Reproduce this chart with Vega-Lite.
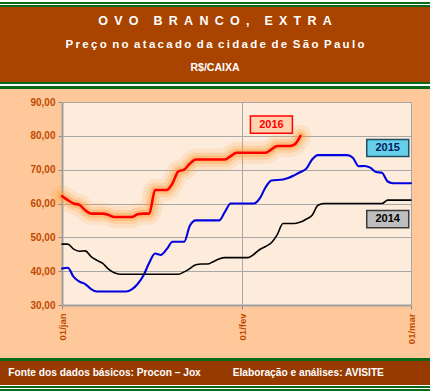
{
  "$schema": "https://vega.github.io/schema/vega-lite/v6.json",
  "background": "#FFC89A",
  "padding": 0,
  "spacing": 0,
  "config": {"view": {"stroke": null}, "font": "Liberation Sans"},
  "datasets": {
    "series": [
      {"year": "2016", "date": "2016-01-01", "price": 62.2},
      {"year": "2016", "date": "2016-01-02", "price": 61.0},
      {"year": "2016", "date": "2016-01-03", "price": 60.0},
      {"year": "2016", "date": "2016-01-04", "price": 59.6},
      {"year": "2016", "date": "2016-01-05", "price": 58.0},
      {"year": "2016", "date": "2016-01-06", "price": 57.0},
      {"year": "2016", "date": "2016-01-08", "price": 57.0},
      {"year": "2016", "date": "2016-01-09", "price": 56.6},
      {"year": "2016", "date": "2016-01-10", "price": 56.0},
      {"year": "2016", "date": "2016-01-13", "price": 56.0},
      {"year": "2016", "date": "2016-01-14", "price": 56.8},
      {"year": "2016", "date": "2016-01-15", "price": 57.0},
      {"year": "2016", "date": "2016-01-16", "price": 57.0},
      {"year": "2016", "date": "2016-01-17", "price": 64.0},
      {"year": "2016", "date": "2016-01-19", "price": 64.0},
      {"year": "2016", "date": "2016-01-20", "price": 66.0},
      {"year": "2016", "date": "2016-01-21", "price": 69.5},
      {"year": "2016", "date": "2016-01-22", "price": 70.0},
      {"year": "2016", "date": "2016-01-23", "price": 71.8},
      {"year": "2016", "date": "2016-01-24", "price": 73.0},
      {"year": "2016", "date": "2016-01-29", "price": 73.0},
      {"year": "2016", "date": "2016-01-30", "price": 74.0},
      {"year": "2016", "date": "2016-01-31", "price": 75.0},
      {"year": "2016", "date": "2016-02-05", "price": 75.0},
      {"year": "2016", "date": "2016-02-06", "price": 76.0},
      {"year": "2016", "date": "2016-02-07", "price": 77.0},
      {"year": "2016", "date": "2016-02-09", "price": 77.0},
      {"year": "2016", "date": "2016-02-10", "price": 77.5},
      {"year": "2016", "date": "2016-02-11", "price": 80.0},
      {"year": "2015", "date": "2016-01-01", "price": 40.8},
      {"year": "2015", "date": "2016-01-02", "price": 41.0},
      {"year": "2015", "date": "2016-01-03", "price": 38.3},
      {"year": "2015", "date": "2016-01-04", "price": 36.9},
      {"year": "2015", "date": "2016-01-05", "price": 36.2},
      {"year": "2015", "date": "2016-01-06", "price": 34.7},
      {"year": "2015", "date": "2016-01-07", "price": 34.0},
      {"year": "2015", "date": "2016-01-12", "price": 34.0},
      {"year": "2015", "date": "2016-01-13", "price": 34.6},
      {"year": "2015", "date": "2016-01-14", "price": 36.2},
      {"year": "2015", "date": "2016-01-15", "price": 38.7},
      {"year": "2015", "date": "2016-01-16", "price": 42.5},
      {"year": "2015", "date": "2016-01-17", "price": 45.2},
      {"year": "2015", "date": "2016-01-18", "price": 44.8},
      {"year": "2015", "date": "2016-01-19", "price": 46.5},
      {"year": "2015", "date": "2016-01-20", "price": 48.7},
      {"year": "2015", "date": "2016-01-22", "price": 48.7},
      {"year": "2015", "date": "2016-01-23", "price": 53.5},
      {"year": "2015", "date": "2016-01-24", "price": 55.0},
      {"year": "2015", "date": "2016-01-28", "price": 55.0},
      {"year": "2015", "date": "2016-01-29", "price": 57.5},
      {"year": "2015", "date": "2016-01-30", "price": 60.0},
      {"year": "2015", "date": "2016-02-03", "price": 60.0},
      {"year": "2015", "date": "2016-02-04", "price": 61.5},
      {"year": "2015", "date": "2016-02-05", "price": 64.8},
      {"year": "2015", "date": "2016-02-06", "price": 66.8},
      {"year": "2015", "date": "2016-02-08", "price": 67.1},
      {"year": "2015", "date": "2016-02-09", "price": 67.6},
      {"year": "2015", "date": "2016-02-10", "price": 68.4},
      {"year": "2015", "date": "2016-02-11", "price": 69.3},
      {"year": "2015", "date": "2016-02-12", "price": 70.3},
      {"year": "2015", "date": "2016-02-13", "price": 73.0},
      {"year": "2015", "date": "2016-02-14", "price": 74.3},
      {"year": "2015", "date": "2016-02-19", "price": 74.3},
      {"year": "2015", "date": "2016-02-20", "price": 73.5},
      {"year": "2015", "date": "2016-02-21", "price": 71.0},
      {"year": "2015", "date": "2016-02-22", "price": 71.1},
      {"year": "2015", "date": "2016-02-23", "price": 70.6},
      {"year": "2015", "date": "2016-02-24", "price": 69.3},
      {"year": "2015", "date": "2016-02-25", "price": 69.1},
      {"year": "2015", "date": "2016-02-26", "price": 66.5},
      {"year": "2015", "date": "2016-02-27", "price": 66.0},
      {"year": "2015", "date": "2016-03-01", "price": 66.0},
      {"year": "2014", "date": "2016-01-01", "price": 48.0},
      {"year": "2014", "date": "2016-01-02", "price": 48.0},
      {"year": "2014", "date": "2016-01-03", "price": 46.5},
      {"year": "2014", "date": "2016-01-04", "price": 45.9},
      {"year": "2014", "date": "2016-01-05", "price": 46.0},
      {"year": "2014", "date": "2016-01-06", "price": 44.3},
      {"year": "2014", "date": "2016-01-07", "price": 43.2},
      {"year": "2014", "date": "2016-01-08", "price": 42.3},
      {"year": "2014", "date": "2016-01-09", "price": 40.6},
      {"year": "2014", "date": "2016-01-10", "price": 39.5},
      {"year": "2014", "date": "2016-01-11", "price": 39.1},
      {"year": "2014", "date": "2016-01-21", "price": 39.1},
      {"year": "2014", "date": "2016-01-22", "price": 39.8},
      {"year": "2014", "date": "2016-01-23", "price": 40.8},
      {"year": "2014", "date": "2016-01-24", "price": 41.9},
      {"year": "2014", "date": "2016-01-25", "price": 42.1},
      {"year": "2014", "date": "2016-01-26", "price": 42.1},
      {"year": "2014", "date": "2016-01-27", "price": 42.8},
      {"year": "2014", "date": "2016-01-28", "price": 43.6},
      {"year": "2014", "date": "2016-01-29", "price": 44.0},
      {"year": "2014", "date": "2016-02-02", "price": 44.0},
      {"year": "2014", "date": "2016-02-03", "price": 45.0},
      {"year": "2014", "date": "2016-02-04", "price": 46.4},
      {"year": "2014", "date": "2016-02-05", "price": 47.3},
      {"year": "2014", "date": "2016-02-06", "price": 48.4},
      {"year": "2014", "date": "2016-02-07", "price": 50.8},
      {"year": "2014", "date": "2016-02-08", "price": 54.1},
      {"year": "2014", "date": "2016-02-10", "price": 54.1},
      {"year": "2014", "date": "2016-02-11", "price": 54.5},
      {"year": "2014", "date": "2016-02-12", "price": 55.4},
      {"year": "2014", "date": "2016-02-13", "price": 56.5},
      {"year": "2014", "date": "2016-02-14", "price": 59.5},
      {"year": "2014", "date": "2016-02-15", "price": 60.0},
      {"year": "2014", "date": "2016-02-25", "price": 60.0},
      {"year": "2014", "date": "2016-02-26", "price": 61.0},
      {"year": "2014", "date": "2016-03-01", "price": 61.0}
    ],
    "labels": [
      {"label": "2016", "date": "2016-02-06", "price": 83.3},
      {"label": "2015", "date": "2016-02-26", "price": 76.4},
      {"label": "2014", "date": "2016-02-26", "price": 55.4}
    ],
    "header": [
      {"line": 1, "text": "O\u2002V\u2002O\u2003\u2009B\u2002R\u2002A\u2002N\u2002C\u2002O\u2002,\u2003\u2009E\u2002X\u2002T\u2002R\u2002A"},
      {"line": 2, "text": "P\u2009r\u2009e\u2009ç\u2009o\u2009 n\u2009o\u2009 a\u2009t\u2009a\u2009c\u2009a\u2009d\u2009o\u2009 d\u2009a\u2009 c\u2009i\u2009d\u2009a\u2009d\u2009e\u2009 d\u2009e\u2009 S\u2009ã\u2009o\u2009 P\u2009a\u2009u\u2009l\u2009o"},
      {"line": 3, "text": "R$/CAIXA"}
    ],
    "footer": [
      {"part": "a", "text": "Fonte dos dados básicos: Procon – Jox"},
      {"part": "b", "text": "Elaboração e análises: AVISITE"}
    ]
  },
  "vconcat": [
    {"width": 430, "height": 2, "data": {"values": []}, "mark": "text", "view": {"fill": "#FFFFFF", "stroke": null}},
    {"width": 430, "height": 2, "data": {"values": []}, "mark": "text", "view": {"fill": "#0A6A1A", "stroke": null}},
    {"width": 430, "height": 1, "data": {"values": []}, "mark": "text", "view": {"fill": "#FFFFFF", "stroke": null}},
    {"width": 430, "height": 2, "data": {"values": []}, "mark": "text", "view": {"fill": "#0A6A1A", "stroke": null}},
    {
      "width": 430, "height": 75,
      "view": {"fill": "#A84300", "stroke": null},
      "data": {"name": "header"},
      "encoding": {
        "y": {"field": "line", "type": "ordinal", "scale": {"type": "point", "domain": [1, 2, 3], "padding": 0.6}, "axis": null},
        "text": {"field": "text"}
      },
      "layer": [
        {"transform": [{"filter": "datum.line == 1"}], "mark": {"type": "text", "font": "Liberation Sans", "fontWeight": "bold", "fontSize": 12.5, "color": "#FFFFFF", "baseline": "middle", "align": "center"}},
        {"transform": [{"filter": "datum.line == 2"}], "mark": {"type": "text", "font": "Liberation Sans", "fontWeight": "bold", "fontSize": 11.5, "color": "#FFFFFF", "baseline": "middle", "align": "center"}},
        {"transform": [{"filter": "datum.line == 3"}], "mark": {"type": "text", "font": "Liberation Sans", "fontWeight": "bold", "fontSize": 10.5, "color": "#FFFFFF", "baseline": "middle", "align": "center"}}
      ]
    },
    {"width": 430, "height": 2, "data": {"values": []}, "mark": "text", "view": {"fill": "#0A6A1A", "stroke": null}},
    {"width": 430, "height": 2, "data": {"values": []}, "mark": "text", "view": {"fill": "#FFFFFF", "stroke": null}},
    {"width": 430, "height": 3, "data": {"values": []}, "mark": "text", "view": {"fill": "#0A6A1A", "stroke": null}},
    {"width": 430, "height": 8, "data": {"values": []}, "mark": "text"},
    {
      "spacing": 0,
      "bounds": "flush",
      "hconcat": [
        {"width": 62, "height": 203, "data": {"values": []}, "mark": "text"},
        {
          "width": 349, "height": 203,
          "view": {"fill": "#FDECDC", "stroke": null},
          "resolve": {"scale": {"color": "independent"}},
          "encoding": {
            "x": {
              "field": "date", "type": "temporal",
              "scale": {"type": "utc", "domain": [{"year": 2016, "month": 1, "date": 1, "utc": true}, {"year": 2016, "month": 3, "date": 1, "utc": true}]},
              "axis": {
                "values": [{"year": 2016, "month": 1, "date": 1, "utc": true}, {"year": 2016, "month": 2, "date": 1, "utc": true}, {"year": 2016, "month": 3, "date": 1, "utc": true}],
                "labelExpr": "'01/' + ['jan','fev','mar'][utcmonth(datum.value)]",
                "labelAngle": 270, "labelFont": "Liberation Sans", "labelFontWeight": "bold", "labelFontSize": 9.5, "labelColor": "#BF4A00",
                "tickSize": 4, "tickColor": "#8C8C8C", "labelPadding": 4,
                "domainColor": "#A0A0A0", "domainWidth": 2, "grid": true, "gridColor": "#A8A8A8", "gridWidth": 1,
                "title": null, "minExtent": 53, "maxExtent": 53
              }
            },
            "y": {
              "field": "price", "type": "quantitative",
              "scale": {"domain": [30, 90], "nice": false, "zero": false},
              "axis": {
                "values": [30, 40, 50, 60, 70, 80, 90],
                "labelExpr": "replace(format(datum.value, '.2f'), '.', ',')",
                "labelFont": "Liberation Sans", "labelFontWeight": "bold", "labelFontSize": 10, "labelColor": "#BF4A00",
                "tickSize": 4, "tickColor": "#8C8C8C", "labelPadding": 3,
                "domainColor": "#A0A0A0", "domainWidth": 2, "grid": true, "gridColor": "#A8A8A8", "gridWidth": 1,
                "title": null
              }
            }
          },
          "layer": [
            {"data": {"name": "series"}, "transform": [{"filter": "datum.year == '2016'"}], "mark": {"type": "line", "interpolate": "monotone", "color": "#FF9A30", "strokeWidth": 22, "opacity": 0.14, "strokeCap": "round", "strokeJoin": "round"}, "encoding": {}},
            {"data": {"name": "series"}, "transform": [{"filter": "datum.year == '2016'"}], "mark": {"type": "line", "interpolate": "monotone", "color": "#FF9A30", "strokeWidth": 14, "opacity": 0.22, "strokeCap": "round", "strokeJoin": "round"}, "encoding": {}},
            {"data": {"name": "series"}, "transform": [{"filter": "datum.year == '2016'"}], "mark": {"type": "line", "interpolate": "monotone", "color": "#FF9A30", "strokeWidth": 8, "opacity": 0.35, "strokeCap": "round", "strokeJoin": "round"}, "encoding": {}},
            {
              "data": {"name": "series"},
              "mark": {"type": "line", "interpolate": "monotone", "strokeCap": "round", "strokeJoin": "round"},
              "encoding": {
                "color": {"field": "year", "type": "nominal", "scale": {"domain": ["2014", "2015", "2016"], "range": ["#000000", "#0000E0", "#FF0000"]}, "legend": null},
                "strokeWidth": {"field": "year", "type": "ordinal", "scale": {"domain": ["2014", "2015", "2016"], "range": [1.6, 2.6, 4.6]}, "legend": null}
              }
            },
            {
              "data": {"name": "labels"},
              "mark": {"type": "point", "shape": "M-1,-0.41H1V0.41H-1Z", "size": 1764, "filled": true, "opacity": 1, "strokeWidth": 1.5},
              "encoding": {
                "fill": {"field": "label", "type": "nominal", "scale": {"domain": ["2014", "2015", "2016"], "range": ["#BFBFBF", "#66CFEA", "#FFD3B0"]}, "legend": null},
                "stroke": {"field": "label", "type": "nominal", "scale": {"domain": ["2014", "2015", "2016"], "range": ["#3A3A3A", "#1F4E63", "#FF0000"]}, "legend": null}
              }
            },
            {
              "data": {"name": "labels"},
              "mark": {"type": "text", "font": "Liberation Sans", "fontWeight": "bold", "fontSize": 11, "baseline": "middle", "align": "center"},
              "encoding": {
                "text": {"field": "label"},
                "color": {"field": "label", "type": "nominal", "scale": {"domain": ["2014", "2015", "2016"], "range": ["#000000", "#00205F", "#FF0000"]}, "legend": null}
              }
            }
          ]
        }
      ]
    },
    {"width": 430, "height": 3, "data": {"values": []}, "mark": "text", "view": {"fill": "#0A6A1A", "stroke": null}},
    {
      "width": 430, "height": 24,
      "view": {"fill": "#963A00", "stroke": null},
      "data": {"name": "footer"},
      "mark": {"type": "text", "font": "Liberation Sans", "fontWeight": "bold", "fontSize": 10.2, "color": "#FFFFFF", "align": "left", "baseline": "middle"},
      "encoding": {
        "x": {"field": "part", "type": "nominal", "scale": {"type": "point", "padding": 0.458, "align": 0.0404}, "axis": null},
        "text": {"field": "text"}
      }
    },
    {"width": 430, "height": 1, "data": {"values": []}, "mark": "text", "view": {"fill": "#FFFFFF", "stroke": null}},
    {"width": 430, "height": 2, "data": {"values": []}, "mark": "text", "view": {"fill": "#0A6A1A", "stroke": null}},
    {"width": 430, "height": 1, "data": {"values": []}, "mark": "text", "view": {"fill": "#FFFFFF", "stroke": null}},
    {"width": 430, "height": 2, "data": {"values": []}, "mark": "text", "view": {"fill": "#0A6A1A", "stroke": null}},
    {"width": 430, "height": 1, "data": {"values": []}, "mark": "text", "view": {"fill": "#FFFFFF", "stroke": null}}
  ]
}
